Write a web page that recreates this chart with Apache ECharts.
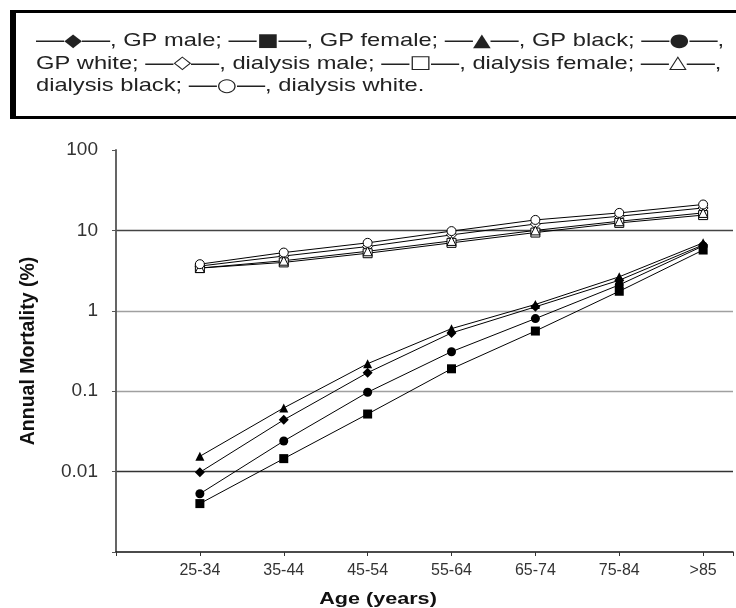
<!DOCTYPE html>
<html>
<head>
<meta charset="utf-8">
<script src="https://cdn.jsdelivr.net/npm/echarts@6/dist/echarts.min.js"></script>
<style>
  html, body { margin: 0; padding: 0; background: #fff; }
  #chart { width: 736px; height: 608px; }
</style>
</head>
<body>
<div id="chart"></div>
<script>
// age groups, plotted at x = 1..7
const ageGroups = ['25-34', '35-44', '45-54', '55-64', '65-74', '75-84', '>85'];
const yTickLabels = ['100', '10', '1', '0.1', '0.01'];

// general population, annual mortality (%)
const gpMale = [0.0098, 0.044, 0.17, 0.53, 1.12, 2.4, 6.6];
const gpFemale = [0.004, 0.0145, 0.052, 0.19, 0.56, 1.75, 5.7];
const gpBlack = [0.0155, 0.062, 0.22, 0.6, 1.2, 2.65, 7.0];
const gpWhite = [0.0053, 0.024, 0.097, 0.31, 0.8, 2.1, 6.4];

// dialysis patients, annual mortality (%)
const dialMale = [3.6, 4.8, 6.3, 8.8, 12.0, 15.0, 19.0];
const dialFemale = [3.4, 4.0, 5.2, 7.0, 9.4, 12.4, 15.5];
const dialBlack = [3.4, 4.2, 5.5, 7.4, 10.0, 13.0, 16.5];
const dialWhite = [3.8, 5.3, 7.0, 9.8, 13.5, 16.5, 21.0];

const FONT = "'Liberation Sans', Arial, sans-serif";

// legend box text, {d|} = dash, {s|} = symbol
function key(sym) { return '{d|\u2014}{s|' + sym + '}{d|\u2014}'; }
const legendLines = [
    key('\u25C6') + ', GP male; ' + key('\u25A0') + ', GP female; ' + key('\u25B2') + ', GP black; ' + key('\u25CF') + ',',
    'GP white; ' + key('\u25C7') + ', dialysis male; ' + key('\u25A1') + ', dialysis female; ' + key('\u25B3') + ',',
    'dialysis black; ' + key('\u25CB') + ', dialysis white.'
];
const legendRich = {
    d: { fontSize: 22, fontFamily: FONT, fill: '#222', verticalAlign: 'middle' },
    s: { fontSize: 18, fontFamily: 'DejaVu Sans', fill: '#222', verticalAlign: 'middle' }
};

function makeSeries(name, values, symbol, size, filled) {
    return {
        name: name,
        type: 'line',
        data: values.map(function (v, i) { return [i + 1, v]; }),
        symbol: symbol,
        symbolSize: size,
        showAllSymbol: true,
        lineStyle: { color: '#000', width: 1 },
        itemStyle: {
            color: filled ? '#000' : '#fff',
            borderColor: '#000',
            borderWidth: filled ? 0 : 1
        },
        emphasis: { disabled: true },
        z: filled ? 3 : 4
    };
}

function legendText(line, top) {
    return {
        type: 'text', x: 36, y: top, scaleX: 1.28,
        style: {
            text: line, rich: legendRich, fontSize: 18.5, fontFamily: FONT,
            fill: '#222', verticalAlign: 'middle'
        }
    };
}

const chart = echarts.init(document.getElementById('chart'));

const option = {
    animation: false,
    textStyle: { fontFamily: FONT },
    grid: { left: 116, right: 0, top: 150, bottom: 56 },
    xAxis: {
        type: 'value',
        min: 0,
        max: 7.356,
        interval: 1,
        axisLine: { show: true, lineStyle: { color: '#111', width: 1.5 } },
        axisTick: { show: true, length: 4, lineStyle: { color: '#333' } },
        axisLabel: {
            color: '#333', fontSize: 16, margin: 11,
            showMinLabel: true, showMaxLabel: true,
            formatter: function (v) {
                return Number.isInteger(v) && v >= 1 ? ageGroups[v - 1] : '';
            }
        },
        splitLine: { show: false }
    },
    yAxis: {
        type: 'log',
        logBase: 10,
        min: 0.001,
        max: 100,
        name: 'Annual Mortality (%)',
        nameLocation: 'middle',
        nameGap: 77,
        nameTextStyle: { color: '#111', fontSize: 19.5, fontWeight: 'bold', fontFamily: FONT },
        axisLine: { show: true, lineStyle: { color: '#555', width: 1.8 } },
        axisTick: { show: true, length: 4, lineStyle: { color: '#555' } },
        axisLabel: {
            color: '#333',
            fontSize: 19,
            margin: 18,
            formatter: function (v) {
                const s = String(+v.toPrecision(3));
                return yTickLabels.indexOf(s) >= 0 ? s : '';
            }
        },
        splitLine: {
            show: true,
            showMinLine: false,
            showMaxLine: false,
            lineStyle: { color: ['#333', '#a0a0a0', '#a0a0a0', '#444', '#000'], width: 1.3 }
        }
    },
    graphic: [
        {
            type: 'rect',
            shape: { x: 12, y: 11.5, width: 800, height: 106 },
            style: { fill: 'none', stroke: '#000', lineWidth: 3 }
        },
        {
            type: 'line',
            shape: { x1: 13, y1: 10, x2: 13, y2: 119 },
            style: { stroke: '#000', lineWidth: 6 }
        },
        legendText(legendLines[0], 41),
        legendText(legendLines[1], 63.5),
        legendText(legendLines[2], 86),
        {
            type: 'text', x: 378, y: 600, scaleX: 1.35,
            style: {
                text: 'Age (years)', fontSize: 16, fontWeight: 'bold', fontFamily: FONT,
                fill: '#111', align: 'center', verticalAlign: 'middle'
            }
        }
    ],
    series: [
        makeSeries('GP male', gpMale, 'diamond', 10, true),
        makeSeries('GP female', gpFemale, 'rect', 9, true),
        makeSeries('GP black', gpBlack, 'triangle', 9, true),
        makeSeries('GP white', gpWhite, 'circle', 9, true),
        makeSeries('dialysis male', dialMale, 'diamond', 10, false),
        makeSeries('dialysis female', dialFemale, 'rect', 9, false),
        makeSeries('dialysis black', dialBlack, 'triangle', 9, false),
        makeSeries('dialysis white', dialWhite, 'circle', 9, false)
    ]
};

chart.setOption(option);
</script>
</body>
</html>
